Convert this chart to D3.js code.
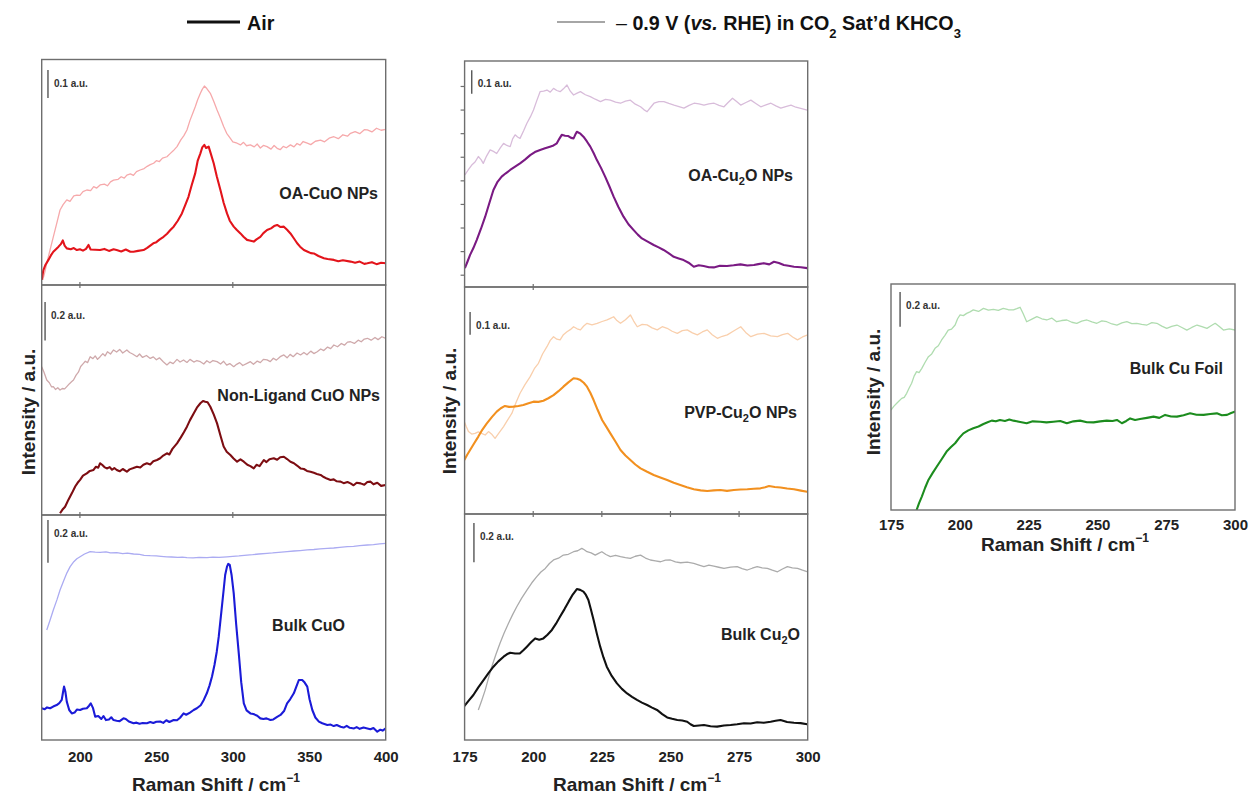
<!DOCTYPE html>
<html>
<head>
<meta charset="utf-8">
<script src="https://cdn.jsdelivr.net/npm/d3@7"></script>
<style>
  html, body { margin: 0; padding: 0; background: #fff; }
  svg { display: block; font-family: "Liberation Sans", Arial, sans-serif; }
</style>
</head>
<body>
<svg id="chart" width="1249" height="795"></svg>
<script>
// Raman spectra: [shift (cm^-1), intensity (a.u.)]
const oaCuOAir = [[175,0.018],[176.1,0.053],[177.5,0.072],[179.4,0.089],[181,0.105],[182.6,0.118],[184.5,0.128],[186,0.136],[187.5,0.145],[188.8,0.158],[190,0.140],[191.4,0.130],[194,0.127],[196,0.131],[198,0.124],[200,0.127],[202,0.122],[204,0.128],[205.6,0.142],[207,0.126],[210,0.125],[213.2,0.124],[216,0.128],[219,0.121],[222,0.127],[224,0.124],[227,0.119],[230,0.126],[233,0.118],[235,0.118],[238,0.121],[241.6,0.124],[244,0.132],[246,0.140],[248,0.148],[250,0.152],[252,0.161],[254.7,0.171],[257,0.182],[259,0.194],[261.3,0.207],[264,0.228],[266.7,0.254],[269,0.285],[271,0.313],[273,0.352],[275.4,0.396],[277,0.440],[278.8,0.467],[280,0.488],[281.4,0.497],[282.5,0.486],[284.2,0.491],[285.5,0.468],[287.5,0.432],[289.5,0.386],[291.9,0.337],[294,0.292],[296.2,0.254],[298,0.228],[300.6,0.207],[302.5,0.196],[305,0.183],[307,0.171],[309.3,0.160],[311,0.158],[313.7,0.154],[315.5,0.162],[318,0.171],[320,0.184],[322.4,0.195],[325,0.201],[327,0.209],[329,0.213],[331,0.206],[333.4,0.207],[335.5,0.196],[337.7,0.183],[340,0.165],[342.1,0.148],[344,0.136],[346.5,0.124],[349,0.118],[351,0.113],[353,0.112],[356,0.103],[359.6,0.095],[362,0.092],[366.1,0.089],[369,0.084],[372,0.088],[377,0.083],[380,0.079],[383,0.083],[386,0.075],[388,0.077],[391,0.081],[394,0.074],[397,0.079],[400,0.077]];
const oaCuOEchem = [[175.7,0.018],[177,0.045],[178.3,0.077],[180.5,0.125],[182.6,0.171],[185,0.222],[187,0.266],[189,0.285],[191.4,0.302],[193.5,0.297],[196,0.316],[198,0.319],[200,0.318],[202,0.331],[204.5,0.337],[207,0.335],[209,0.349],[211,0.344],[213.2,0.355],[216,0.358],[218,0.352],[220,0.366],[222,0.372],[225,0.375],[227,0.384],[229,0.379],[230.7,0.390],[233,0.394],[235,0.389],[237,0.402],[239.4,0.408],[242,0.413],[244,0.421],[246,0.427],[248.2,0.432],[250,0.441],[252,0.438],[254,0.450],[256.9,0.455],[259,0.466],[261,0.476],[263.5,0.491],[266,0.515],[268,0.530],[270,0.550],[272,0.584],[274,0.612],[275.5,0.633],[277,0.657],[278.8,0.680],[280,0.694],[281.4,0.706],[283,0.697],[285.3,0.680],[287.5,0.652],[289.7,0.621],[292,0.591],[294,0.562],[296,0.538],[298.4,0.520],[300,0.508],[302.8,0.503],[305,0.497],[307,0.506],[309,0.494],[311.5,0.497],[314,0.490],[316,0.500],[318,0.486],[320,0.495],[322.4,0.491],[325,0.482],[327,0.495],[329,0.485],[331,0.480],[333,0.492],[335,0.487],[337.7,0.497],[340,0.490],[342,0.502],[344,0.496],[346,0.509],[348.7,0.503],[351,0.498],[354,0.510],[357.4,0.514],[360,0.508],[363,0.521],[366.1,0.526],[369,0.519],[372,0.533],[375,0.528],[377,0.538],[380,0.544],[383,0.537],[386,0.551],[388,0.550],[391,0.543],[394,0.556],[397,0.549],[400,0.552]];

const nonLigandAir = [[187,0.009],[188.5,0.027],[190.3,0.043],[192.5,0.080],[194.7,0.113],[197,0.150],[198.5,0.168],[200.1,0.183],[202,0.205],[204.5,0.217],[206.5,0.230],[208.9,0.235],[210.5,0.252],[212,0.247],[213.2,0.270],[214.5,0.262],[216,0.250],[217.6,0.243],[219.5,0.250],[221,0.236],[222.5,0.245],[224.1,0.235],[226,0.228],[228,0.240],[230.7,0.226],[232.5,0.238],[235,0.245],[237.3,0.252],[239.5,0.248],[241.5,0.262],[243.8,0.270],[246,0.264],[248,0.280],[250.4,0.287],[252.5,0.296],[254.5,0.310],[256.9,0.322],[258.5,0.316],[260.5,0.345],[263.5,0.374],[266,0.405],[268,0.432],[270,0.461],[272,0.495],[274.4,0.530],[276.5,0.560],[278.8,0.583],[280.5,0.595],[282,0.591],[283.5,0.588],[285.3,0.565],[287.5,0.525],[289.7,0.478],[292,0.412],[294,0.357],[296,0.330],[298.4,0.313],[300.5,0.295],[302.8,0.278],[305,0.290],[307.2,0.278],[309.5,0.262],[311.5,0.255],[313.7,0.243],[315.5,0.262],[317.5,0.255],[320.3,0.287],[322,0.276],[324,0.291],[326.8,0.296],[329,0.288],[331,0.301],[333.4,0.304],[335.5,0.292],[337.7,0.278],[340,0.270],[342,0.258],[344.3,0.243],[346.5,0.240],[348.5,0.230],[350.8,0.226],[353,0.220],[355,0.214],[357.4,0.209],[359.5,0.198],[361.5,0.190],[363.9,0.183],[366,0.186],[368,0.176],[370.5,0.174],[372.5,0.166],[375,0.172],[377,0.165],[379,0.155],[381,0.168],[383.6,0.165],[386,0.158],[388,0.172],[390.1,0.174],[392,0.160],[394.5,0.168],[397,0.152],[400,0.157]];
const nonLigandEchem = [[175,0.774],[176.5,0.745],[178.3,0.704],[180,0.690],[181.5,0.668],[182.6,0.670],[184,0.655],[185.5,0.664],[187,0.652],[188.5,0.660],[190,0.658],[191.4,0.670],[193,0.684],[194.5,0.695],[195.8,0.704],[197.5,0.730],[199,0.745],[200.5,0.775],[202.3,0.791],[203.5,0.802],[205,0.795],[206.7,0.826],[208.5,0.816],[210,0.830],[211.5,0.812],[213.2,0.826],[215,0.842],[216.5,0.830],[218,0.852],[220,0.840],[222,0.861],[224,0.850],[226,0.864],[228,0.845],[230.7,0.861],[232.5,0.848],[234.5,0.840],[237.3,0.826],[239,0.840],[241,0.822],[243.5,0.832],[246,0.817],[248,0.825],[250,0.810],[252,0.820],[254.5,0.800],[256.9,0.783],[259,0.798],[261,0.790],[263.5,0.812],[265.5,0.798],[267.8,0.809],[270,0.796],[272,0.812],[274.5,0.798],[276.5,0.806],[278.8,0.800],[281,0.788],[283,0.805],[285,0.794],[287,0.806],[289.7,0.800],[292,0.788],[294,0.802],[296,0.782],[298,0.790],[300.6,0.774],[302.5,0.786],[304.5,0.795],[306.5,0.780],[309.3,0.791],[311.5,0.800],[313.5,0.786],[316,0.803],[318,0.795],[320,0.812],[322.4,0.809],[324.5,0.800],[326.5,0.818],[328.5,0.808],[331,0.826],[333.4,0.835],[335.5,0.820],[337.5,0.838],[339.5,0.826],[342,0.845],[344.3,0.835],[346.5,0.848],[348.5,0.836],[351,0.855],[353,0.842],[355.2,0.852],[357.5,0.866],[359.5,0.858],[362,0.876],[364,0.868],[366.1,0.887],[368.5,0.878],[371,0.895],[373,0.886],[375,0.902],[377,0.904],[379.5,0.895],[382,0.912],[384,0.904],[386,0.918],[388,0.922],[390.5,0.912],[393,0.926],[395,0.915],[397.5,0.930],[400,0.922]];

const bulkCuOAir = [[175,0.148],[177,0.144],[178.5,0.152],[180.5,0.148],[182.5,0.156],[184.8,0.163],[186.5,0.172],[188.1,0.187],[189,0.225],[189.6,0.249],[190.5,0.225],[191.4,0.179],[193,0.140],[194.7,0.124],[196.5,0.128],[198,0.142],[200.1,0.140],[202,0.146],[204.5,0.148],[206,0.160],[207.1,0.171],[208.5,0.150],[210,0.109],[212,0.112],[214,0.098],[215.4,0.112],[217,0.093],[219,0.096],[220.5,0.106],[222,0.093],[224,0.090],[226,0.088],[228.5,0.101],[230,0.098],[232,0.086],[235.1,0.078],[237,0.081],[239,0.076],[241,0.079],[243.8,0.078],[246,0.084],[248,0.079],[250,0.085],[252.5,0.086],[254.5,0.080],[256.5,0.092],[258.5,0.084],[261.3,0.093],[263.5,0.092],[265.5,0.104],[267.8,0.124],[269.5,0.118],[272,0.128],[274.4,0.140],[276.5,0.148],[279,0.162],[281,0.187],[283,0.218],[284.8,0.255],[286.4,0.296],[288,0.350],[289.5,0.412],[290.8,0.482],[292.5,0.598],[294,0.700],[295,0.770],[296.2,0.809],[297,0.822],[298,0.817],[299.2,0.770],[300.6,0.684],[302.2,0.540],[303.9,0.404],[305.5,0.270],[307.2,0.171],[309,0.138],[311.5,0.124],[313.5,0.121],[316,0.113],[318,0.101],[320,0.098],[322,0.101],[324.6,0.093],[326.5,0.096],[329,0.108],[331.2,0.117],[333.5,0.135],[335.5,0.171],[337.5,0.190],[339.9,0.218],[341.5,0.248],[343.2,0.280],[345.4,0.280],[347,0.268],[348.7,0.249],[350.2,0.190],[352,0.140],[354,0.105],[356.3,0.086],[358.5,0.078],[361.8,0.070],[364,0.072],[366,0.065],[368,0.070],[370.5,0.062],[372.5,0.058],[374.5,0.066],[376.5,0.057],[379.3,0.054],[381,0.060],[383,0.052],[385.5,0.058],[388,0.054],[390,0.050],[392,0.056],[394.5,0.039],[396.5,0.048],[398,0.044],[400,0.054]];
const bulkCuOEchem = [[178.3,0.513],[180.5,0.560],[182.6,0.607],[185,0.655],[187,0.700],[189.5,0.746],[191.5,0.780],[193.6,0.809],[196,0.832],[198,0.846],[200.1,0.855],[203,0.868],[206.7,0.879],[210,0.877],[213.2,0.876],[217,0.878],[220,0.873],[224.1,0.874],[228,0.870],[231,0.872],[235.1,0.868],[239,0.866],[242,0.862],[246,0.860],[250,0.859],[253,0.857],[256.9,0.855],[260,0.854],[264,0.852],[267,0.853],[270,0.851],[274,0.850],[278,0.852],[283.1,0.851],[287,0.853],[291,0.852],[296.2,0.855],[300,0.857],[304,0.859],[309.3,0.863],[313,0.865],[317,0.868],[322.4,0.871],[326,0.873],[330,0.876],[335.5,0.879],[340,0.882],[344,0.884],[348.7,0.887],[353,0.889],[357,0.892],[361.8,0.894],[366,0.896],[370,0.899],[374.9,0.902],[379,0.904],[383,0.907],[388,0.910],[392,0.912],[396,0.915],[400,0.918]];

const oaCu2OAir = [[175.1,0.080],[176,0.106],[177,0.136],[178.2,0.165],[179.4,0.199],[181,0.248],[182.5,0.298],[184,0.355],[185.5,0.411],[187,0.446],[188.5,0.468],[190,0.482],[191.6,0.496],[193.4,0.510],[195.2,0.524],[197,0.540],[198.9,0.559],[200.6,0.572],[202.5,0.581],[204.3,0.588],[206.1,0.595],[207.4,0.600],[208.6,0.609],[209.5,0.628],[210.4,0.645],[211.6,0.641],[212.8,0.640],[213.8,0.632],[214.7,0.630],[215.3,0.645],[215.9,0.658],[217.2,0.650],[218.3,0.637],[219.5,0.618],[220.8,0.595],[222,0.568],[223.2,0.538],[224.7,0.505],[226.2,0.468],[227.7,0.428],[229.3,0.383],[231,0.340],[232.9,0.298],[234.7,0.266],[236.6,0.241],[238.1,0.222],[239.6,0.206],[241.7,0.192],[243.9,0.178],[245.7,0.168],[247.5,0.157],[249.3,0.144],[251.2,0.128],[253,0.121],[254.8,0.114],[256.6,0.103],[258.5,0.086],[260.3,0.092],[262.1,0.089],[264,0.084],[265.8,0.083],[268,0.090],[270.6,0.089],[273,0.092],[275.5,0.096],[278,0.091],[280.4,0.093],[282,0.097],[284,0.101],[286,0.096],[287.7,0.107],[289.5,0.102],[291.3,0.093],[293,0.090],[295,0.086],[297.5,0.084],[299.8,0.080]];
const oaCu2OEchem = [[175.1,0.475],[176.3,0.496],[177.6,0.517],[178.8,0.530],[180,0.553],[181,0.540],[181.8,0.524],[183,0.555],[184.3,0.581],[185.5,0.575],[186.7,0.566],[188,0.590],[189.2,0.609],[190.4,0.600],[191.6,0.595],[192.5,0.628],[193.4,0.645],[194.3,0.636],[195.2,0.630],[196.5,0.662],[197.7,0.694],[199,0.722],[200.1,0.750],[201.3,0.790],[202.5,0.828],[203.8,0.830],[205,0.835],[206.2,0.826],[207.4,0.842],[208.6,0.833],[209.8,0.828],[211,0.840],[212.3,0.856],[213.5,0.830],[214.7,0.814],[216,0.822],[217.2,0.828],[219,0.815],[220.8,0.807],[222.6,0.796],[224.5,0.786],[226.3,0.795],[228.1,0.792],[230,0.784],[231.8,0.779],[233.6,0.788],[235.4,0.792],[237.2,0.775],[239.1,0.764],[240.3,0.752],[241.5,0.743],[242.8,0.762],[244,0.779],[245.8,0.786],[247.6,0.786],[249.4,0.778],[251.3,0.771],[253.1,0.765],[254.9,0.758],[256.8,0.770],[258.6,0.779],[260.4,0.776],[262.2,0.771],[264,0.776],[265.9,0.779],[267.7,0.770],[269.5,0.764],[271,0.782],[272.6,0.800],[274.1,0.786],[275.6,0.771],[277.5,0.782],[279.3,0.792],[281.1,0.778],[282.9,0.764],[284.8,0.772],[286.6,0.779],[288.4,0.768],[290.2,0.758],[292,0.765],[293.9,0.771],[295.7,0.762],[297.8,0.756],[299.8,0.750]];

const pvpCu2OAir = [[174.9,0.238],[176,0.262],[177,0.282],[178.5,0.312],[180,0.341],[181.5,0.372],[183.1,0.399],[185,0.428],[186.7,0.451],[188.2,0.466],[189.7,0.476],[191.2,0.472],[192.8,0.473],[194.6,0.476],[196.4,0.480],[198.3,0.488],[200.1,0.495],[201.9,0.494],[203.7,0.499],[205.5,0.510],[207.4,0.524],[209.2,0.541],[211,0.561],[212.8,0.580],[214.7,0.598],[216,0.596],[217.2,0.590],[218.4,0.578],[219.6,0.561],[220.8,0.534],[222,0.502],[223.5,0.458],[225.1,0.414],[226.6,0.385],[228.1,0.355],[230,0.318],[231.8,0.282],[233.6,0.258],[235.4,0.238],[237.2,0.218],[239.1,0.201],[241.5,0.186],[243.9,0.172],[246.3,0.161],[248.8,0.150],[251.2,0.138],[253.6,0.128],[256,0.118],[258.5,0.109],[261,0.104],[263.4,0.101],[265.8,0.104],[268.2,0.106],[270.6,0.102],[273.1,0.106],[275.5,0.108],[278,0.109],[280.4,0.111],[282.8,0.113],[284.5,0.118],[285.9,0.123],[288,0.119],[290.1,0.117],[292.5,0.112],[295,0.109],[297.5,0.103],[299.8,0.098]];
const pvpCu2OEchem = [[174.9,0.407],[175.6,0.385],[176.4,0.363],[177.6,0.352],[178.8,0.355],[180,0.362],[181.2,0.355],[182.5,0.348],[183.7,0.363],[185,0.350],[186.1,0.333],[187.6,0.358],[189.2,0.385],[190.7,0.415],[192.2,0.443],[193.7,0.490],[195.2,0.532],[197,0.570],[198.9,0.605],[200.4,0.640],[201.9,0.664],[203.4,0.705],[205,0.737],[206.2,0.765],[207.4,0.781],[208.6,0.770],[209.8,0.767],[211,0.790],[212.3,0.803],[213.5,0.812],[214.7,0.825],[216,0.816],[217.2,0.811],[218.4,0.828],[219.6,0.840],[221.4,0.833],[223.3,0.840],[225.1,0.848],[226.9,0.855],[228.1,0.862],[229.3,0.869],[230.5,0.852],[231.8,0.840],[233.6,0.856],[235.4,0.877],[236.6,0.850],[237.9,0.825],[239.7,0.835],[241.5,0.833],[243.3,0.820],[245.2,0.811],[247,0.825],[248.8,0.818],[250.6,0.805],[252.5,0.796],[254.3,0.808],[256.1,0.811],[258,0.798],[259.8,0.789],[261.6,0.802],[263.4,0.811],[265.2,0.790],[267.1,0.774],[268.9,0.783],[270.7,0.789],[273,0.806],[275.6,0.825],[277.4,0.800],[279.3,0.781],[281.7,0.792],[284.1,0.796],[286.5,0.785],[289,0.781],[290.8,0.790],[292.7,0.796],[294.5,0.780],[296.3,0.767],[298.1,0.780],[300,0.789]];

const bulkCu2OAir = [[174.9,0.173],[176.5,0.200],[178.2,0.229],[180,0.268],[181.9,0.305],[183.7,0.340],[185.5,0.373],[187.3,0.400],[189.2,0.424],[190.4,0.436],[191.6,0.444],[193.4,0.440],[195.2,0.441],[196.5,0.458],[197.7,0.475],[199.2,0.497],[200.7,0.517],[202.2,0.510],[203.7,0.517],[205.2,0.536],[206.8,0.560],[208.3,0.592],[209.8,0.628],[211.4,0.666],[212.9,0.704],[214.4,0.740],[215.9,0.768],[217.1,0.764],[218.3,0.755],[219.2,0.738],[220.1,0.712],[221,0.665],[222,0.611],[223.2,0.540],[224.4,0.475],[225.6,0.420],[226.8,0.373],[228.6,0.326],[230.5,0.288],[232.3,0.260],[234.2,0.237],[236,0.220],[237.8,0.204],[239.6,0.190],[241.5,0.178],[243.3,0.165],[245.1,0.153],[247,0.132],[248.8,0.115],[250.6,0.108],[252.5,0.102],[254.3,0.099],[256.1,0.093],[257.3,0.080],[258.5,0.071],[260.4,0.074],[262.2,0.076],[264.6,0.070],[267,0.068],[269.5,0.074],[271.9,0.076],[274.3,0.080],[276.8,0.085],[279.2,0.084],[281.6,0.090],[284,0.088],[286.5,0.093],[288.3,0.098],[290.1,0.102],[292.5,0.092],[295,0.088],[297.4,0.086],[299.8,0.080]];
const bulkCu2OEchem = [[180,0.153],[181.2,0.200],[182.5,0.254],[183.7,0.315],[184.9,0.373],[186.4,0.435],[187.9,0.492],[189.4,0.545],[191,0.594],[192.5,0.638],[194,0.678],[195.8,0.722],[197.7,0.763],[199.5,0.800],[201.3,0.831],[202.8,0.855],[204.4,0.873],[205.9,0.898],[207.4,0.916],[209.2,0.925],[211,0.941],[212.8,0.945],[214.7,0.958],[216.2,0.963],[217.7,0.975],[218.6,0.968],[219.6,0.958],[221.1,0.952],[222.6,0.941],[223.8,0.950],[225,0.958],[226.5,0.944],[228.1,0.933],[230,0.940],[231.8,0.933],[233.6,0.928],[235.4,0.924],[237.2,0.935],[239.1,0.941],[240.9,0.926],[242.7,0.916],[244.5,0.912],[246.4,0.907],[248.2,0.915],[250,0.916],[251.8,0.906],[253.7,0.902],[256.1,0.905],[258.5,0.899],[260.4,0.890],[262.2,0.882],[264,0.890],[265.8,0.885],[267.6,0.879],[269.5,0.873],[271.9,0.880],[274.3,0.882],[276.1,0.872],[278,0.865],[279.8,0.874],[281.6,0.882],[283.4,0.876],[285.3,0.873],[287.1,0.864],[289,0.856],[290.8,0.870],[292.6,0.882],[294.4,0.876],[296.3,0.873],[298.1,0.864],[300,0.856]];

const cuFoilAir = [[184.3,0.000],[185.2,0.040],[186.2,0.077],[187.4,0.128],[188.6,0.173],[190.1,0.212],[191.6,0.249],[193.4,0.292],[195.2,0.336],[196.8,0.362],[198.3,0.384],[199.8,0.415],[201.3,0.441],[203.1,0.458],[204.9,0.470],[206.8,0.480],[208.6,0.495],[210.1,0.505],[211.6,0.514],[213.1,0.510],[214.6,0.518],[216.4,0.512],[218,0.520],[219.5,0.514],[221.5,0.508],[224.3,0.499],[226.5,0.510],[229.2,0.508],[231.5,0.504],[234,0.508],[236.5,0.512],[238.9,0.499],[241.3,0.510],[243.7,0.514],[246.2,0.505],[248.6,0.504],[251,0.510],[253.4,0.514],[255.5,0.512],[257.1,0.518],[258.9,0.499],[260.5,0.512],[261.9,0.527],[263.7,0.518],[265.5,0.523],[268,0.530],[270.4,0.537],[272.5,0.530],[274.6,0.547],[276.8,0.538],[278.9,0.537],[281.3,0.545],[283.7,0.556],[286,0.548],[288.6,0.547],[291,0.552],[293.4,0.556],[295.2,0.545],[297.1,0.547],[298.6,0.558],[300.1,0.566]];
const cuFoilEchem = [[175,0.575],[176,0.596],[177.1,0.614],[178,0.628],[178.9,0.642],[179.8,0.648],[180.7,0.671],[181.6,0.702],[182.5,0.729],[183.4,0.770],[184.3,0.796],[185.2,0.790],[186.2,0.815],[187.4,0.850],[188.6,0.882],[189.8,0.898],[191,0.930],[192.2,0.945],[193.4,0.978],[194.6,1.005],[195.8,1.035],[197,1.040],[198.3,1.064],[199.2,1.100],[200.1,1.122],[201.3,1.118],[202.5,1.131],[203.7,1.140],[204.9,1.151],[206.8,1.142],[208.6,1.160],[210.4,1.150],[212.2,1.154],[214,1.148],[215.8,1.160],[217.6,1.152],[219.5,1.151],[220.7,1.158],[221.9,1.166],[223,1.130],[224.3,1.083],[226.2,1.098],[228,1.112],[229.8,1.100],[231.6,1.093],[233.4,1.104],[235.2,1.083],[237,1.090],[238.9,1.093],[240.7,1.080],[242.5,1.074],[244.3,1.086],[246.2,1.093],[248,1.082],[249.8,1.074],[251.6,1.088],[253.4,1.083],[255.3,1.070],[257.1,1.064],[258.9,1.076],[260.7,1.083],[262.5,1.072],[264.3,1.074],[266.1,1.068],[268,1.064],[269.8,1.078],[271.6,1.074],[273.4,1.058],[275.2,1.045],[277,1.056],[278.9,1.064],[280.7,1.050],[282.5,1.035],[284.3,1.050],[286.2,1.064],[288,1.055],[289.8,1.045],[291.3,1.060],[292.8,1.074],[294.3,1.055],[295.8,1.035],[297.9,1.042],[300.1,1.035]];

// Axis ticks and labels
const shiftTicksWide = [200, 250, 300, 350, 400];
const shiftTicksNarrow = [175, 200, 225, 250, 275, 300];
const innerTicksWide = [200, 300];
const innerTicksNarrow = [200, 225, 250, 275];
const oaCu2OYTicks = [0.05, 0.15, 0.25, 0.35, 0.45, 0.55, 0.65, 0.75, 0.85];

const panels = [
  { name: "OA-CuO NPs", air: oaCuOAir, echem: oaCuOEchem, airColor: "#e3141b", echemColor: "#f6a9ab",
    x0: 41.7, x1: 385.7, y0: 59.5, y1: 285, xDom: [175, 400], yMax: 0.8,
    bar: 0.1, barX: 179.1, barTop: 0.763, labelX: 378, labelY: 199, innerTicks: innerTicksWide },
  { name: "Non-Ligand CuO NPs", air: nonLigandAir, echem: nonLigandEchem, airColor: "#7d0d12", echemColor: "#cfa9ab",
    x0: 41.7, x1: 385.7, y0: 285, y1: 515, xDom: [175, 400], yMax: 1.2,
    bar: 0.2, barX: 177.2, barTop: 1.111, labelX: 380, labelY: 401, innerTicks: innerTicksWide },
  { name: "Bulk CuO", air: bulkCuOAir, echem: bulkCuOEchem, airColor: "#1b1bd8", echemColor: "#ababf2",
    x0: 41.7, x1: 385.7, y0: 515, y1: 740, xDom: [175, 400], yMax: 1.05,
    bar: 0.2, barX: 179.1, barTop: 1.027, labelX: 345, labelY: 631, axisTicks: shiftTicksWide },
  { name: ["OA-Cu", "2", "O NPs"], air: oaCu2OAir, echem: oaCu2OEchem, airColor: "#7a1a83", echemColor: "#d8bcda",
    x0: 464.6, x1: 807.7, y0: 61, y1: 287, xDom: [175, 300], yMax: 0.958,
    bar: 0.1, barX: 177.6, barTop: 0.919, labelX: 793, labelY: 181, innerTicks: [200], yTicks: oaCu2OYTicks },
  { name: ["PVP-Cu", "2", "O NPs"], air: pvpCu2OAir, echem: pvpCu2OEchem, airColor: "#f2901f", echemColor: "#f9cfac",
    x0: 464.6, x1: 807.7, y0: 287, y1: 514, xDom: [175, 300], yMax: 1.0,
    bar: 0.1, barX: 177.0, barTop: 0.890, labelX: 797, labelY: 418, innerTicks: innerTicksNarrow },
  { name: ["Bulk Cu", "2", "O"], air: bulkCu2OAir, echem: bulkCu2OEchem, airColor: "#111111", echemColor: "#ababab",
    x0: 464.6, x1: 807.7, y0: 514, y1: 740, xDom: [175, 300], yMax: 1.15,
    bar: 0.2, barX: 178.4, barTop: 1.104, labelX: 800, labelY: 640, axisTicks: shiftTicksNarrow },
  { name: "Bulk Cu Foil", air: cuFoilAir, echem: cuFoilEchem, airColor: "#1c8c1e", echemColor: "#afdcaf",
    x0: 891, x1: 1235, y0: 284, y1: 510, xDom: [175, 300], yMax: 1.3,
    bar: 0.2, barX: 178.3, barTop: 1.254, labelX: 1223, labelY: 374, axisTicks: shiftTicksNarrow }
];

const svg = d3.select("#chart");
const frameColor = "#6e6e6e";
const font = "'Liberation Sans', Arial, sans-serif";

panels.forEach((p, i) => {
  const x = d3.scaleLinear().domain(p.xDom).range([p.x0, p.x1]);
  const y = d3.scaleLinear().domain([0, p.yMax]).range([p.y1, p.y0]);
  const clipId = "clip" + i;
  svg.append("clipPath").attr("id", clipId)
    .append("rect").attr("x", p.x0).attr("y", p.y0)
    .attr("width", p.x1 - p.x0).attr("height", p.y1 - p.y0);

  const g = svg.append("g");
  const line = d3.line().x(d => x(d[0])).y(d => y(d[1]));

  g.append("path").datum(p.echem).attr("d", line)
    .attr("fill", "none").attr("stroke", p.echemColor).attr("stroke-width", 1.3)
    .attr("stroke-linejoin", "round").attr("clip-path", `url(#${clipId})`);
  g.append("path").datum(p.air).attr("d", line)
    .attr("fill", "none").attr("stroke", p.airColor).attr("stroke-width", 2.1)
    .attr("stroke-linejoin", "round").attr("clip-path", `url(#${clipId})`);

  // frame
  g.append("rect").attr("x", p.x0).attr("y", p.y0)
    .attr("width", p.x1 - p.x0).attr("height", p.y1 - p.y0)
    .attr("fill", "none").attr("stroke", frameColor).attr("stroke-width", 1.4);

  // scale bar
  g.append("line")
    .attr("x1", x(p.barX)).attr("x2", x(p.barX))
    .attr("y1", y(p.barTop)).attr("y2", y(p.barTop - p.bar))
    .attr("stroke", "#555").attr("stroke-width", 1.4);
  g.append("text")
    .attr("x", x(p.barX) + 6).attr("y", y(p.barTop) + 17)
    .attr("font-size", 10).attr("font-weight", "bold").attr("fill", "#333")
    .attr("font-family", font)
    .text(`${p.bar} a.u.`);

  // panel label
  const lbl = g.append("text").attr("x", p.labelX).attr("y", p.labelY)
    .attr("text-anchor", "end").attr("font-size", 16).attr("font-weight", "bold")
    .attr("fill", "#222").attr("font-family", font);
  if (Array.isArray(p.name)) {
    lbl.append("tspan").text(p.name[0]);
    lbl.append("tspan").attr("font-size", 11).attr("dy", 4).text(p.name[1]);
    lbl.append("tspan").attr("dy", -4).text(p.name[2]);
  } else {
    lbl.text(p.name);
  }

  // short ticks on the shared boundary below the panel
  if (p.innerTicks) {
    g.selectAll(".itick").data(p.innerTicks).join("line")
      .attr("x1", d => x(d)).attr("x2", d => x(d))
      .attr("y1", p.y1 - 3).attr("y2", p.y1 + 3)
      .attr("stroke", frameColor).attr("stroke-width", 1.2);
  }

  // left intensity ticks
  if (p.yTicks) {
    g.selectAll(".ytick").data(p.yTicks).join("line")
      .attr("x1", p.x0 - 4).attr("x2", p.x0)
      .attr("y1", d => y(d)).attr("y2", d => y(d))
      .attr("stroke", frameColor).attr("stroke-width", 1.2);
  }

  // bottom axis labels
  if (p.axisTicks) {
    const ax = svg.append("g").attr("transform", `translate(0,${p.y1})`)
      .call(d3.axisBottom(x).tickValues(p.axisTicks).tickSize(0).tickPadding(p.y1 > 600 ? 11 : 9).tickFormat(d3.format("d")));
    ax.select(".domain").remove();
    ax.selectAll("text").attr("font-size", 15).attr("font-weight", "bold")
      .attr("fill", "#222").attr("font-family", font);
  }
});

// axis titles
function ramanTitle(cx, baseline) {
  const t = svg.append("text").attr("x", cx).attr("y", baseline)
    .attr("text-anchor", "middle").attr("font-size", 19).attr("font-weight", "bold")
    .attr("fill", "#222").attr("font-family", font);
  t.append("tspan").text("Raman Shift / cm");
  t.append("tspan").attr("font-size", 12).attr("dy", -9).text("\u22121");
}
ramanTitle(216, 791);
ramanTitle(637, 791);
ramanTitle(1065, 551);

function intensityTitle(bx, cy) {
  svg.append("text").attr("transform", `translate(${bx},${cy}) rotate(-90)`)
    .attr("text-anchor", "middle").attr("font-size", 19).attr("font-weight", "bold")
    .attr("fill", "#222").attr("font-family", font)
    .text("Intensity / a.u.");
}
intensityTitle(35, 412);
intensityTitle(456, 411);
intensityTitle(880, 392);

// legend
const legend = svg.append("g");
legend.append("line").attr("x1", 187).attr("x2", 240).attr("y1", 22).attr("y2", 22)
  .attr("stroke", "#111").attr("stroke-width", 3);
legend.append("text").attr("x", 247).attr("y", 30)
  .attr("font-size", 19.7).attr("font-weight", "bold").attr("fill", "#111").attr("font-family", font)
  .text("Air");
legend.append("line").attr("x1", 557).attr("x2", 605).attr("y1", 22).attr("y2", 22)
  .attr("stroke", "#888").attr("stroke-width", 1.5);
const lt = legend.append("text").attr("x", 616).attr("y", 30)
  .attr("font-size", 19.7).attr("font-weight", "bold").attr("fill", "#111").attr("font-family", font);
lt.append("tspan").attr("font-weight", "normal").text("\u2013 ");
lt.append("tspan").text("0.9 V (");
lt.append("tspan").attr("font-style", "italic").text("vs.");
lt.append("tspan").text(" RHE) in CO");
lt.append("tspan").attr("font-size", 13).attr("dy", 8).text("2");
lt.append("tspan").attr("dy", -8).text(" Sat\u2019d KHCO");
lt.append("tspan").attr("font-size", 13).attr("dy", 8).text("3");
</script>
</body>
</html>
